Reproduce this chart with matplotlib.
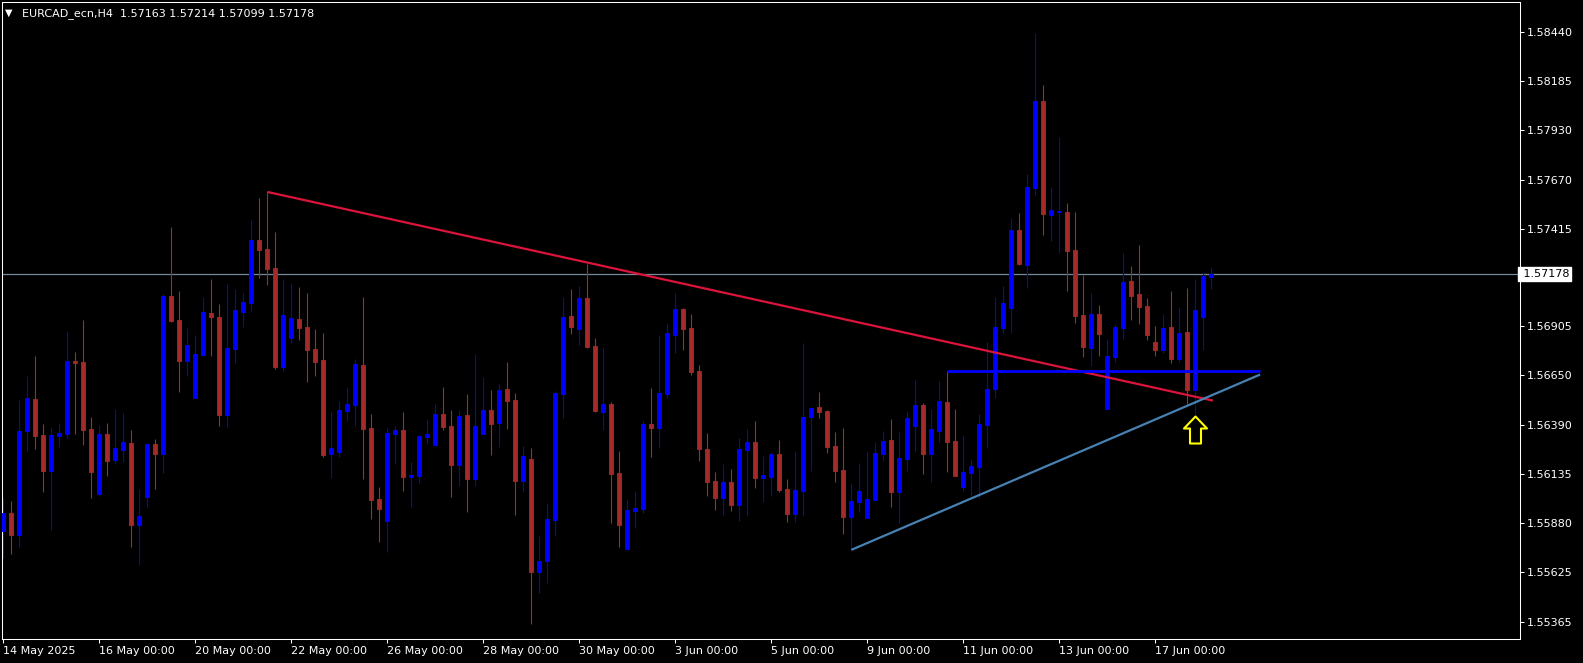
import matplotlib
matplotlib.use("Agg")
import matplotlib.pyplot as plt
from matplotlib.path import Path
from matplotlib.markers import MarkerStyle
import numpy as np

symbol = "EURCAD_ecn,H4"
last_ohlc = ["1.57163", "1.57214", "1.57099", "1.57178"]

opens = [1.55840, 1.55930, 1.55817, 1.56360, 1.56527, 1.56339, 1.56151, 1.56335, 1.56346, 1.56727,
         1.56720, 1.56370, 1.56033, 1.56344, 1.56210, 1.56262, 1.56297, 1.55871, 1.56014, 1.56292,
         1.56241, 1.57064, 1.56939, 1.56727, 1.56534, 1.56756, 1.56975, 1.56954, 1.56443, 1.56788,
         1.56982, 1.57028, 1.57356, 1.57309, 1.57210, 1.56694, 1.56845, 1.56944, 1.56902, 1.56788,
         1.56730, 1.56240, 1.56252, 1.56464, 1.56495, 1.56704, 1.56375, 1.56005, 1.55890, 1.56344,
         1.56365, 1.56120, 1.56127, 1.56328, 1.56287, 1.56448, 1.56386, 1.56182, 1.56443, 1.56109,
         1.56344, 1.56469, 1.56401, 1.56579, 1.56521, 1.56099, 1.56214, 1.55624, 1.55681, 1.55895,
         1.56553, 1.56960, 1.56892, 1.57054, 1.56803, 1.56459, 1.56500, 1.56140, 1.55744, 1.55942,
         1.55953, 1.56396, 1.56375, 1.56553, 1.56861, 1.56996, 1.56897, 1.56673, 1.56266, 1.56099,
         1.56010, 1.56094, 1.55974, 1.56261, 1.56302, 1.56114, 1.56120, 1.56240, 1.56057, 1.55927,
         1.56047, 1.56433, 1.56485, 1.56464, 1.56281, 1.56156, 1.55911, 1.55989, 1.55906, 1.56000,
         1.56240, 1.56313, 1.56041, 1.56214, 1.56386, 1.56495, 1.56240, 1.56360, 1.56511, 1.56307,
         1.56067, 1.56140, 1.56172, 1.56391, 1.56579, 1.56897, 1.57001, 1.57408, 1.57226, 1.57628,
         1.58082, 1.57487, 1.57502, 1.57502, 1.57304, 1.56965, 1.56793, 1.56970, 1.56474, 1.56746,
         1.56897, 1.57142, 1.57075, 1.57012, 1.56824, 1.56782, 1.56902, 1.56735, 1.56876, 1.56574,
         1.56954, 1.57163]
highs = [1.56008, 1.55994, 1.56521, 1.56647, 1.56751, 1.56396, 1.56380, 1.56400, 1.56881, 1.56772,
         1.56939, 1.56433, 1.56391, 1.56400, 1.56474, 1.56454, 1.56365, 1.56057, 1.56292, 1.56318,
         1.57074, 1.57426, 1.57090, 1.56897, 1.56861, 1.57059, 1.57153, 1.57022, 1.57127, 1.57101,
         1.57080, 1.57461, 1.57575, 1.57607, 1.57398, 1.57153, 1.57132, 1.57111, 1.57080, 1.56892,
         1.56871, 1.56459, 1.56516, 1.56589, 1.56735, 1.57059, 1.56448, 1.56067, 1.56375, 1.56386,
         1.56459, 1.56198, 1.56339, 1.56422, 1.56501, 1.56589, 1.56469, 1.56469, 1.56553, 1.56761,
         1.56641, 1.56574, 1.56605, 1.56720, 1.56558, 1.56281, 1.56271, 1.55812, 1.55984, 1.56570,
         1.57059, 1.57101, 1.57116, 1.57231, 1.56845, 1.56798, 1.56511, 1.56255, 1.56005, 1.56047,
         1.56412, 1.56584, 1.56861, 1.56923, 1.57080, 1.57001, 1.56970, 1.56704, 1.56349, 1.56146,
         1.56187, 1.56161, 1.56323, 1.56370, 1.56412, 1.56229, 1.56250, 1.56313, 1.56109, 1.56255,
         1.56819, 1.56485, 1.56563, 1.56469, 1.56354, 1.56375, 1.56088, 1.56193, 1.56255, 1.56302,
         1.56360, 1.56422, 1.56354, 1.56464, 1.56626, 1.56506, 1.56474, 1.56621, 1.56673, 1.56474,
         1.56339, 1.56214, 1.56448, 1.56824, 1.57059, 1.57116, 1.57471, 1.57497, 1.57701, 1.58436,
         1.58165, 1.57633, 1.57894, 1.57549, 1.57502, 1.57174, 1.57080, 1.57017, 1.56840, 1.56918,
         1.57288, 1.57221, 1.57330, 1.57054, 1.56908, 1.56970, 1.57090, 1.57007, 1.57106, 1.57153,
         1.57189, 1.57214]
lows = [1.55695, 1.55718, 1.55756, 1.56257, 1.56266, 1.56043, 1.55843, 1.56278, 1.56325, 1.56344,
        1.56287, 1.56010, 1.56022, 1.56125, 1.56189, 1.56200, 1.55756, 1.55662, 1.55961, 1.56059,
        1.56142, 1.56930, 1.56565, 1.56648, 1.56534, 1.56756, 1.56753, 1.56387, 1.56382, 1.56716,
        1.56904, 1.56988, 1.57160, 1.57121, 1.56683, 1.56673, 1.56819, 1.56834, 1.56615, 1.56647,
        1.56224, 1.56114, 1.56226, 1.56412, 1.56387, 1.56109, 1.55900, 1.55780, 1.55728, 1.56187,
        1.56047, 1.55963, 1.56088, 1.56292, 1.56287, 1.56365, 1.56015, 1.56073, 1.55937, 1.56073,
        1.56344, 1.56234, 1.56276, 1.56370, 1.55921, 1.56041, 1.55353, 1.55514, 1.55567, 1.55812,
        1.56427, 1.56866, 1.56808, 1.56793, 1.56459, 1.56365, 1.55880, 1.55754, 1.55744, 1.55853,
        1.55932, 1.56224, 1.56271, 1.56532, 1.56767, 1.56782, 1.56652, 1.56203, 1.56020, 1.55947,
        1.55921, 1.55942, 1.55890, 1.55916, 1.56062, 1.55989, 1.56020, 1.56041, 1.55885, 1.55885,
        1.55916, 1.56151, 1.56427, 1.56245, 1.56094, 1.55822, 1.55744, 1.55937, 1.55906, 1.56000,
        1.56203, 1.55963, 1.55880, 1.56151, 1.56250, 1.56135, 1.56094, 1.56302, 1.56146, 1.56125,
        1.56047, 1.56020, 1.56010, 1.56271, 1.56532, 1.56871, 1.56871, 1.57226, 1.57106, 1.57591,
        1.57382, 1.57351, 1.57288, 1.57090, 1.56923, 1.56746, 1.56699, 1.56751, 1.56474, 1.56720,
        1.56840, 1.56939, 1.56918, 1.56834, 1.56751, 1.56767, 1.56714, 1.56720, 1.56501, 1.56448,
        1.56782, 1.57099]
closes = [1.55930, 1.55817, 1.56360, 1.56534, 1.56335, 1.56151, 1.56339, 1.56349, 1.56725, 1.56716,
          1.56365, 1.56146, 1.56344, 1.56203, 1.56271, 1.56302, 1.55871, 1.55916, 1.56292, 1.56241,
          1.57064, 1.56935, 1.56727, 1.56808, 1.56761, 1.56981, 1.56956, 1.56445, 1.56793, 1.56991,
          1.57033, 1.57356, 1.57304, 1.57205, 1.56694, 1.56965, 1.56949, 1.56897, 1.56782, 1.56720,
          1.56234, 1.56271, 1.56469, 1.56501, 1.56709, 1.56370, 1.56000, 1.55953, 1.56349, 1.56365,
          1.56120, 1.56130, 1.56334, 1.56344, 1.56448, 1.56381, 1.56182, 1.56438, 1.56109, 1.56386,
          1.56469, 1.56396, 1.56574, 1.56516, 1.56099, 1.56229, 1.55624, 1.55681, 1.55900, 1.56558,
          1.56953, 1.56902, 1.57054, 1.56798, 1.56464, 1.56500, 1.56135, 1.55869, 1.55947, 1.55958,
          1.56396, 1.56375, 1.56558, 1.56871, 1.56996, 1.56892, 1.56668, 1.56266, 1.56094, 1.56010,
          1.56094, 1.55974, 1.56266, 1.56302, 1.56114, 1.56130, 1.56240, 1.56052, 1.55927, 1.56052,
          1.56433, 1.56480, 1.56459, 1.56276, 1.56151, 1.55911, 1.55994, 1.56047, 1.56005, 1.56245,
          1.56307, 1.56041, 1.56219, 1.56427, 1.56495, 1.56240, 1.56370, 1.56516, 1.56302, 1.56125,
          1.56146, 1.56177, 1.56396, 1.56579, 1.56902, 1.57028, 1.57408, 1.57231, 1.57633, 1.58082,
          1.57492, 1.57513, 1.57508, 1.57299, 1.56960, 1.56798, 1.56970, 1.56866, 1.56751, 1.56902,
          1.57137, 1.57064, 1.57007, 1.56861, 1.56782, 1.56897, 1.56735, 1.56871, 1.56574, 1.56991,
          1.57168, 1.57178]

date_ticks = [0, 12, 24, 36, 48, 60, 72, 84, 96, 108, 120, 132, 144]
date_labels = ["14 May 2025", "16 May 00:00", "20 May 00:00", "22 May 00:00", "26 May 00:00",
               "28 May 00:00", "30 May 00:00", "3 Jun 00:00", "5 Jun 00:00", "9 Jun 00:00",
               "11 Jun 00:00", "13 Jun 00:00", "17 Jun 00:00"]
price_ticks = [1.55365, 1.55625, 1.55880, 1.56135, 1.56390, 1.56650, 1.56905,
               1.57415, 1.57670, 1.57930, 1.58185, 1.58440]
price_labels = ["1.55365", "1.55625", "1.55880", "1.56135", "1.56390", "1.56650", "1.56905",
                "1.57415", "1.57670", "1.57930", "1.58185", "1.58440"]
bid_price = 1.57178
bid_label = "1.57178"

resistance_x = [33, 151.2]
resistance_y = [1.57607, 1.56518]
support_x = [106, 157.1]
support_y = [1.55739, 1.56654]
level_x = [118, 157.1]
level_y = [1.56673, 1.56673]
arrow_bar = 149
arrow_price = 1.56440

W, H = 1583, 663
fig = plt.figure(figsize=(W / 100, H / 100), dpi=100, facecolor="black")
ax = fig.add_axes([2 / W, 24 / H, 1518 / W, 637 / H])
ax.set_facecolor("black")

x = np.arange(len(opens))
o = np.array(opens); h = np.array(highs); l = np.array(lows); c = np.array(closes)
up = c >= o
cols = np.where(up, "#0000FF", "#A52A2A")

ax.axhline(bid_price, color="#778899", lw=0.9, zorder=1)
ax.vlines(x, l, h, colors=cols, linewidth=0.8, zorder=2)
ax.bar(x, np.abs(c - o), bottom=np.minimum(o, c), width=0.55, color=cols,
       edgecolor=cols, linewidth=0.6, zorder=3)

ax.plot(resistance_x, resistance_y, color="#DC143C", lw=1.6, zorder=4, solid_capstyle="butt")
ax.plot(support_x, support_y, color="#4682B4", lw=1.6, zorder=4, solid_capstyle="butt")
ax.plot(level_x, level_y, color="#0000FF", lw=2.0, zorder=4, solid_capstyle="butt")

arrow_path = Path([(0, 0), (11.5, -12), (5.5, -12), (5.5, -27), (-5.5, -27),
                   (-5.5, -12), (-11.5, -12), (0, 0)], closed=True)
ax.plot([arrow_bar], [arrow_price], marker=MarkerStyle(arrow_path), markersize=38.9,
        markerfacecolor="black", markeredgecolor="#FFFF00", markeredgewidth=1.5,
        linestyle="none", zorder=5)

ax.set_xlim(-0.1625, 189.59)
ax.set_ylim(1.55274, 1.58598)

ax.yaxis.tick_right()
ax.set_yticks(price_ticks)
ax.set_yticklabels(price_labels)
ax.tick_params(axis="y", colors="white", direction="out", length=3, width=0.75, pad=2,
               labelsize=8)
ax.set_xticks(date_ticks)
ax.set_xticklabels(date_labels, ha="left")
ax.tick_params(axis="x", colors="white", direction="out", length=3, width=0.75, pad=2,
               labelsize=8)
for s in ax.spines.values():
    s.set_color("white")
    s.set_linewidth(0.75)

ax.text(1.0, bid_price, " " + bid_label, transform=ax.get_yaxis_transform(), color="black",
        fontsize=8, va="center", ha="left", zorder=6,
        bbox=dict(boxstyle="square,pad=0.15", facecolor="white", edgecolor="white"),
        clip_on=False)

fig.text(5 / W, 1 - 12.5 / H, "▼", color="white", fontsize=7, va="center", ha="left")
fig.text(21.5 / W, 1 - 13.5 / H, symbol + "  " + " ".join(last_ohlc), color="white",
         fontsize=8, va="center", ha="left")

fig.savefig("out.png", dpi=100, facecolor="black")
